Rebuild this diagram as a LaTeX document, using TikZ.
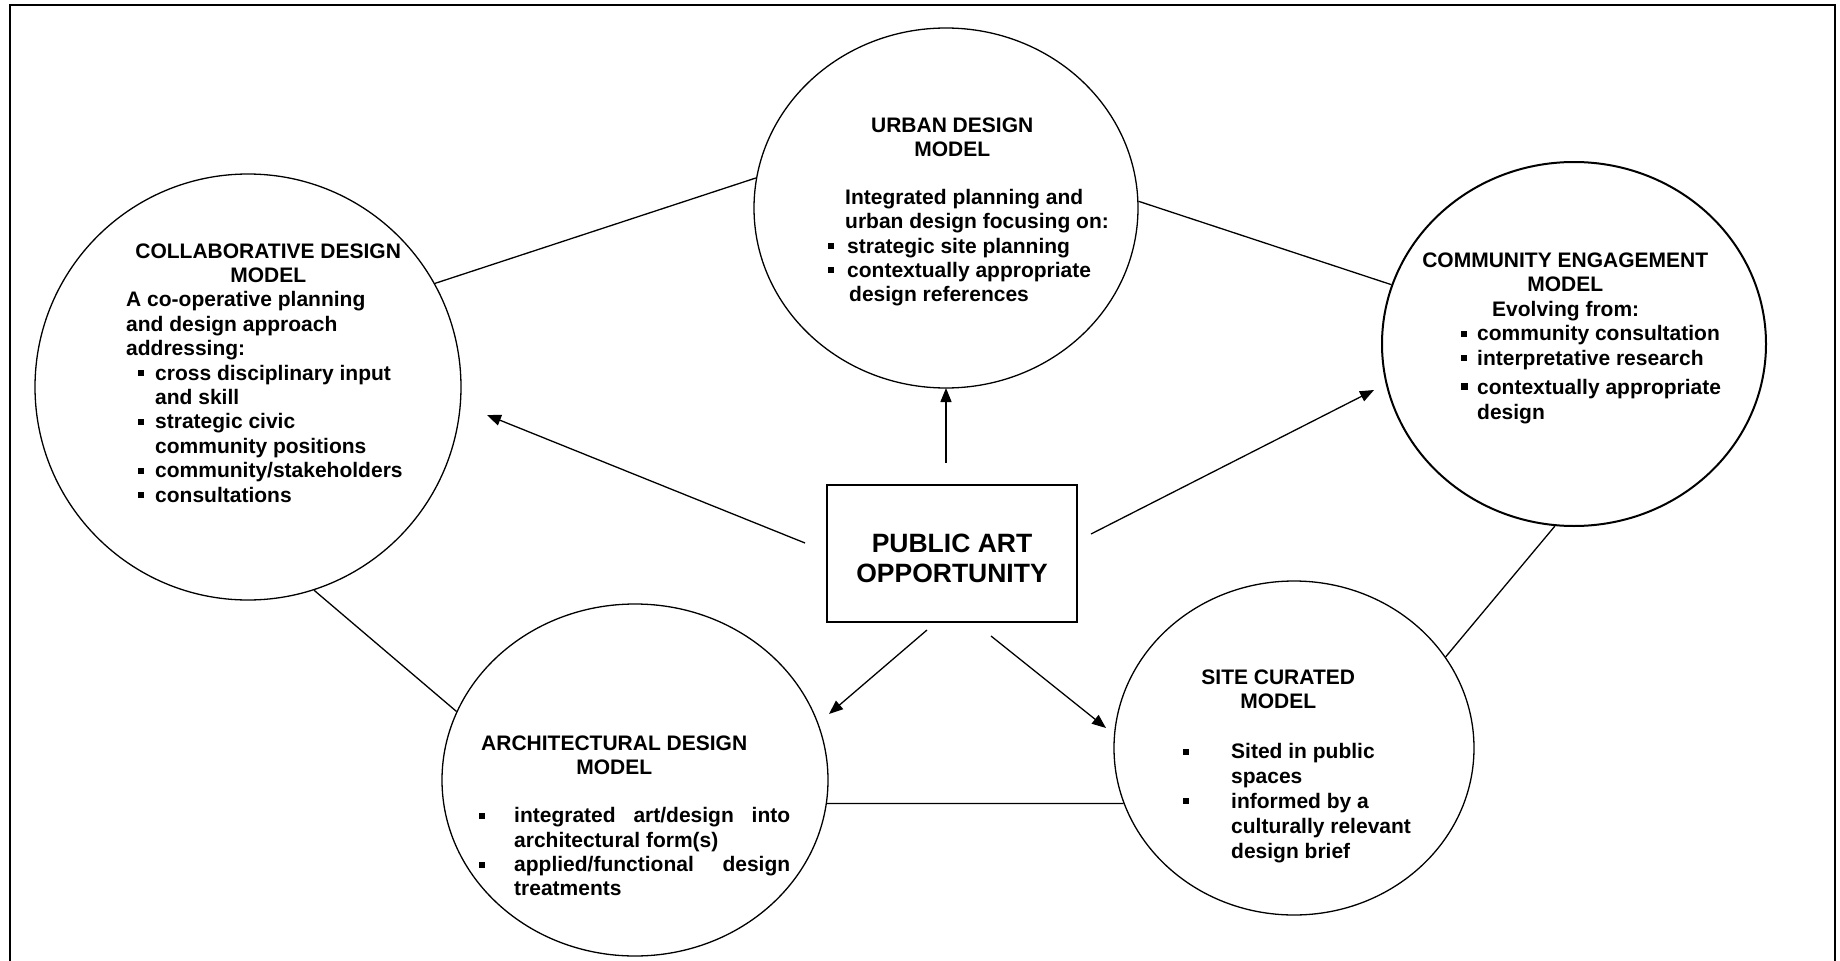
\documentclass[tikz,border=0pt]{standalone}
\usepackage{fontspec}
\setmainfont{Liberation Sans}
\usetikzlibrary{shapes.geometric,arrows.meta}

% small square bullet and a bulleted line: indent, bullet column, text
\newcommand{\sqb}{\rule[4pt]{6pt}{6pt}}
\newcommand{\sqbig}{\rule[5pt]{7pt}{7pt}}
\newcommand{\bulline}[3]{\hspace*{#1}\makebox[#2][l]{\sqb}#3}

\tikzset{
  model/.style={ellipse, draw, line width=1.3pt, inner sep=0pt},
  txt/.style={anchor=base west, inner sep=0pt, font=\bfseries},
  link/.style={line width=1.3pt},
  arr/.style={line width=1.3pt, -{Triangle[length=14pt,width=11pt]}},
  hub/.style={draw, line width=2.2pt, minimum width=250pt, minimum height=137pt,
              inner sep=0pt, font=\bfseries}
}

\begin{document}
\begin{tikzpicture}[x=1pt,y=-1pt]
\useasboundingbox (0,0) rectangle (1840,961);

% outer frame (open at the bottom)
\draw[line width=2pt] (10,961) -- (10,5) -- (1835,5) -- (1835,961);

% model ellipses
\node[model, minimum width=426pt, minimum height=426pt] (collab) at (248,387) {};
\node[model, minimum width=384pt, minimum height=360pt] (urban) at (946,208) {};
\node[model, line width=2pt, minimum width=384pt, minimum height=364pt] (commun) at (1574,344) {};
\node[model, minimum width=386pt, minimum height=352pt] (archi) at (635,780) {};
\node[model, minimum width=360pt, minimum height=334pt] (site) at (1294,748) {};

% central box
\node[hub] (pa) at (952,553.5) {\parbox{250pt}{\centering\fontsize{26.5}{30}\selectfont\vspace*{9pt}PUBLIC ART\\OPPORTUNITY}};

% texts inside the ellipses
\node[txt] (collabtxt) at (126,258) {\parbox[t]{330pt}{\fontsize{21}{24.4}\selectfont\raggedright
\makebox[284pt][c]{COLLABORATIVE DESIGN}\\
\makebox[284pt][c]{MODEL}\\
A co-operative planning\\
and design approach\\
addressing:\\
\bulline{12pt}{17pt}{cross disciplinary input}\\
\hspace*{29pt}and skill\\
\bulline{12pt}{17pt}{strategic civic}\\
\hspace*{29pt}community positions\\
\bulline{12pt}{17pt}{community/stakeholders}\\
\bulline{12pt}{17pt}{consultations}}};

\node[txt] (urbantxt) at (828,132) {\parbox[t]{330pt}{\fontsize{21}{24.2}\selectfont\raggedright
\makebox[248pt][c]{URBAN DESIGN}\\
\makebox[248pt][c]{MODEL}\\
\mbox{}\\
\hspace*{17pt}Integrated planning and\\
\hspace*{17pt}urban design focusing on:\\
\bulline{0pt}{19pt}{strategic site planning}\\
\bulline{0pt}{19pt}{contextually appropriate}\\
\hspace*{21pt}design references}};

\node[txt] (communtxt) at (1421,267) {\parbox[t]{330pt}{\fontsize{21}{24.5}\selectfont\raggedright
\makebox[288pt][c]{COMMUNITY ENGAGEMENT}\\
\makebox[288pt][c]{MODEL}\\
\hspace*{71pt}Evolving from:\\
\bulline{40pt}{16pt}{community consultation}\\
\bulline{40pt}{16pt}{interpretative research}\\[5pt]
\hspace*{40pt}\makebox[16pt][l]{\sqbig}contextually appropriate\\
\hspace*{56pt}design}};

\node[txt] (architxt) at (479,750) {\parbox[t]{330pt}{\fontsize{21}{24.3}\selectfont\raggedright
\makebox[270pt][c]{ARCHITECTURAL DESIGN}\\
\makebox[270pt][c]{MODEL}\\
\mbox{}\\
\makebox[35pt][l]{\sqb}\hbox to 276pt{integrated\hfill art/design\hfill into}\\
\hspace*{35pt}architectural form(s)\\
\makebox[35pt][l]{\sqb}\hbox to 276pt{applied/functional\hfill design}\\
\hspace*{35pt}treatments}};

\node[txt] (sitetxt) at (1183,684) {\parbox[t]{330pt}{\fontsize{21}{24.86}\selectfont\raggedright
\makebox[190pt][c]{SITE CURATED}\\
\makebox[190pt][c]{MODEL}\\
\mbox{}\\
\makebox[48pt][l]{\sqb}Sited in public\\
\hspace*{48pt}spaces\\
\makebox[48pt][l]{\sqb}informed by a\\
\hspace*{48pt}culturally relevant\\
\hspace*{48pt}design brief}};

% links between the models
\draw[link] (collab.29) -- (urban.171);
\draw[link] (urban.2) -- (commun.162);
\draw[link] (collab.-72) -- (archi.159);
\draw[link] (archi.-7) -- (site.198);
\draw[link] (site.31.5) -- (commun.-96);

% arrow ends, held clear of the shapes
\coordinate (a1s) at (805,543);  \coordinate (a1e) at (487,415);
\coordinate (a2s) at (946,463);  \coordinate (a2e) at (946,388);
\coordinate (a3s) at (1091,534); \coordinate (a3e) at (1374,390);
\coordinate (a4s) at (927,630);  \coordinate (a4e) at (829,714);
\coordinate (a5s) at (991,636);  \coordinate (a5e) at (1106,728);

% arrows from the central opportunity
\draw[arr] (a1s) -- (a1e);
\draw[arr] (a2s) -- (a2e);
\draw[arr] (a3s) -- (a3e);
\draw[arr] (a4s) -- (a4e);
\draw[arr] (a5s) -- (a5e);
\end{tikzpicture}
\end{document}
